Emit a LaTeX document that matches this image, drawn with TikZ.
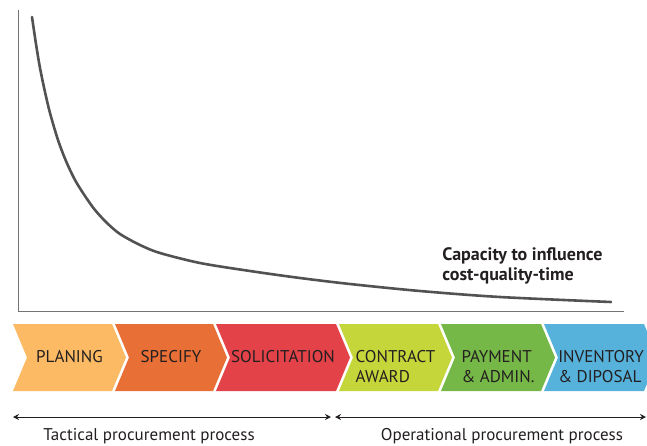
\documentclass[tikz,border=0pt]{standalone}
\usepackage{fontspec}
\setmainfont{PT Sans}
\usetikzlibrary{arrows.meta,positioning}

\definecolor{planc}{RGB}{251,186,99}
\definecolor{specc}{RGB}{232,111,54}
\definecolor{solc}{RGB}{226,66,72}
\definecolor{contc}{RGB}{196,214,58}
\definecolor{payc}{RGB}{118,184,71}
\definecolor{invc}{RGB}{86,178,219}
\definecolor{inkc}{RGB}{35,31,32}

\begin{document}
\begin{tikzpicture}[x=0.5pt,y=-0.5pt,
    stagetext/.style={align=left,font=\fontsize{8.5}{10}\selectfont,text=inkc,inner sep=0pt},
    axisline/.style={draw=black!55,line width=0.5pt},
    span/.style={<->,>={Stealth[length=3pt,width=3pt]},line width=0.5pt,inkc}]
    \useasboundingbox (0,0) rectangle (647,445);

    % axes and curve
    \draw[axisline] (18,10) -- (18,311) -- (624,311);
    \draw[line width=1.3pt,black!68,line cap=round] plot[smooth] coordinates {(32,17) (36,44) (40,68) (45,92) (50,113) (58,140) (66,161) (75,180) (85,196) (95,210) (107,223) (120,234) (140,245) (160,253) (200,263) (250,271) (300,278) (350,284) (420,291) (500,297) (611,302)};
    \node (capacity) [anchor=north west,align=left,inner sep=0pt,text=inkc,font=\fontsize{9}{10}\selectfont\bfseries] at (442,247) {Capacity to influence\\cost-quality-time};

    % process stages
    \foreach \l/\w/\col/\name/\txt in {13/99/planc/planing/PLANING, 115/98/specc/specify/SPECIFY, 216/120/solc/solicit/SOLICITATION, 339/99/contc/contract/{CONTRACT\\AWARD}, 441/100/payc/payment/{PAYMENT\\\& ADMIN.}, 544/100/invc/inventory/{INVENTORY\\\& DIPOSAL}}{
        \fill[\col] (\l,324) -- ++(\w,0) -- ++(14,33.5) -- ++(-14,33.5) -- ++(-\w,0) -- ++(14,-33.5) -- cycle;
        \node (\name) [stagetext,anchor=north] at (\l+\w/2+7,350) {\txt};
    }

    % procurement spans
    \coordinate (tacL) at (13,417);
    \coordinate (tacR) at (331,417);
    \coordinate (opL) at (335,417);
    \coordinate (opR) at (646,417);
    \draw[span] (tacL) -- (tacR);
    \draw[span] (opL) -- (opR);
    \node (tactical) [stagetext] at (149,436) {Tactical procurement process};
    \node (operational) [stagetext] at (502,436) {Operational procurement process};
\end{tikzpicture}
\end{document}
